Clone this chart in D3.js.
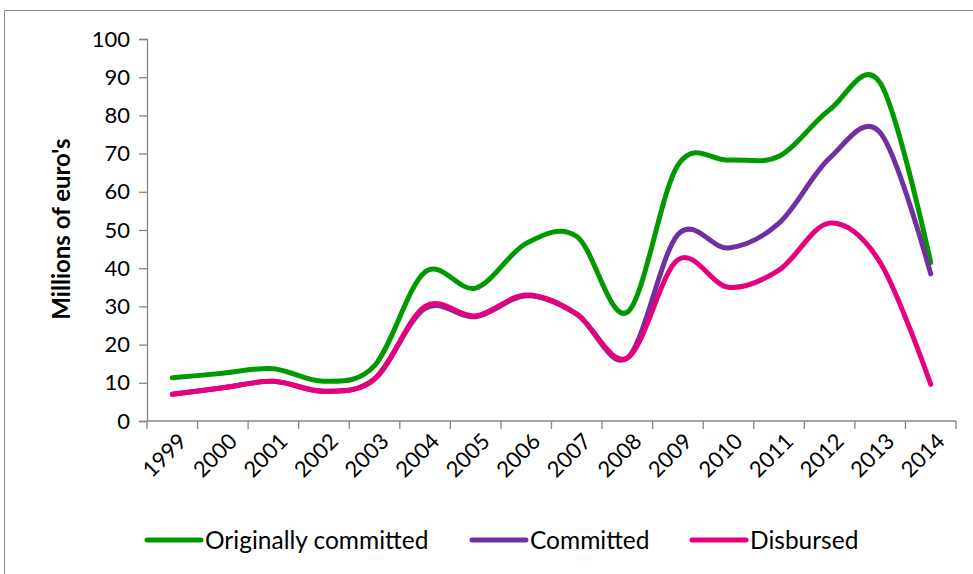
<!DOCTYPE html>
<html>
<head>
<meta charset="utf-8">
<script src="https://cdn.jsdelivr.net/npm/d3@7"></script>
<style>
  body { margin: 0; background: #fff; }
  svg { display: block; font-family: Lato, "Open Sans", sans-serif; }
</style>
</head>
<body>
<div id="chart"></div>
<script>
const years = ["1999","2000","2001","2002","2003","2004","2005","2006","2007","2008","2009","2010","2011","2012","2013","2014"];
const originallyCommitted = [11.3, 12.5, 13.7, 10.4, 14.5, 39, 34.8, 46.5, 48.3, 28.5, 67, 68.3, 69.3, 81.5, 88.5, 41.5];
const committed = [7, 8.7, 10.4, 7.8, 11, 29.5, 27.3, 32.8, 28, 16.5, 48.8, 45.3, 51.8, 68.8, 75.5, 38.5];
const disbursed = [7, 8.7, 10.4, 7.8, 11, 30, 27.5, 33, 28, 16.5, 42.2, 35, 39.5, 51.8, 41.5, 9.6];
const seriesNames = ["Originally committed", "Committed", "Disbursed"];
const seriesColors = ["#009A00", "#7030A0", "#E6007E"];
const yTicks = [0,10,20,30,40,50,60,70,80,90,100];

const W = 973, H = 574;
const PLOT_LEFT = 147, PLOT_RIGHT = 956, PLOT_TOP = 39, PLOT_BOTTOM = 421;

const svg = d3.select("#chart").append("svg")
    .attr("width", W).attr("height", H);

// cadre gris autour du graphique
svg.append("path")
    .attr("d", `M4.5,${H + 2}V10.5H${W + 2}`)
    .attr("fill", "none")
    .attr("stroke", "#8c8c8c")
    .attr("stroke-width", 1);

const x = d3.scaleBand().domain(years).range([PLOT_LEFT, PLOT_RIGHT]).padding(0);
const y = d3.scaleLinear().domain([0, 100]).range([PLOT_BOTTOM, PLOT_TOP]);
const xc = d => x(d) + x.bandwidth() / 2;

// axe Y
const axisY = d3.axisLeft(y).tickValues(yTicks).tickSize(8).tickPadding(9);
const gy = svg.append("g")
    .attr("transform", `translate(${PLOT_LEFT},0)`)
    .call(axisY);
gy.selectAll("path, line").attr("stroke", "#868686").attr("stroke-width", 1.3);
gy.selectAll("text").attr("font-size", 22).attr("fill", "#000")
    .attr("font-family", "Lato, sans-serif");

// axe X (ticks entre les catégories)
const gx = svg.append("g")
    .attr("transform", `translate(0,${PLOT_BOTTOM})`);
gx.append("line")
    .attr("x1", PLOT_LEFT).attr("x2", PLOT_RIGHT)
    .attr("stroke", "#868686").attr("stroke-width", 1.3);
const boundaries = years.map(d => x(d)).concat([PLOT_RIGHT]);
gx.selectAll(".tk").data(boundaries).enter().append("line")
    .attr("x1", d => d).attr("x2", d => d)
    .attr("y1", 0).attr("y2", 8)
    .attr("stroke", "#868686").attr("stroke-width", 1.3);
gx.selectAll(".lbl").data(years).enter().append("text")
    .attr("transform", d => `translate(${xc(d) + 4},${10}) rotate(-45)`)
    .attr("text-anchor", "end")
    .attr("dy", "0.75em")
    .attr("font-size", 22)
    .text(d => d);

// titre axe Y
svg.append("text")
    .attr("transform", `translate(70,229) rotate(-90)`)
    .attr("text-anchor", "middle")
    .attr("font-size", 24)
    .attr("font-weight", "bold")
    .text("Millions of euro's");

// courbes lissées façon Excel
const line = d3.line()
    .x((d, i) => xc(years[i]))
    .y(d => y(d))
    .curve(d3.curveCardinal.tension(0));

[originallyCommitted, committed, disbursed].forEach((s, i) => {
    svg.append("path")
        .datum(s)
        .attr("d", line)
        .attr("fill", "none")
        .attr("stroke", seriesColors[i])
        .attr("stroke-width", 5)
        .attr("stroke-linecap", "round")
        .attr("stroke-linejoin", "round");
});

// légende
const legendX = [147, 472, 692];
const leg = svg.append("g").attr("transform", "translate(0,540)");
seriesNames.forEach((n, i) => {
    leg.append("line")
        .attr("x1", legendX[i]).attr("x2", legendX[i] + 54)
        .attr("stroke", seriesColors[i]).attr("stroke-width", 5)
        .attr("stroke-linecap", "round");
    leg.append("text")
        .attr("x", legendX[i] + 58)
        .attr("dy", "0.35em")
        .attr("font-size", 24.5)
        .text(n);
});
</script>
</body>
</html>
